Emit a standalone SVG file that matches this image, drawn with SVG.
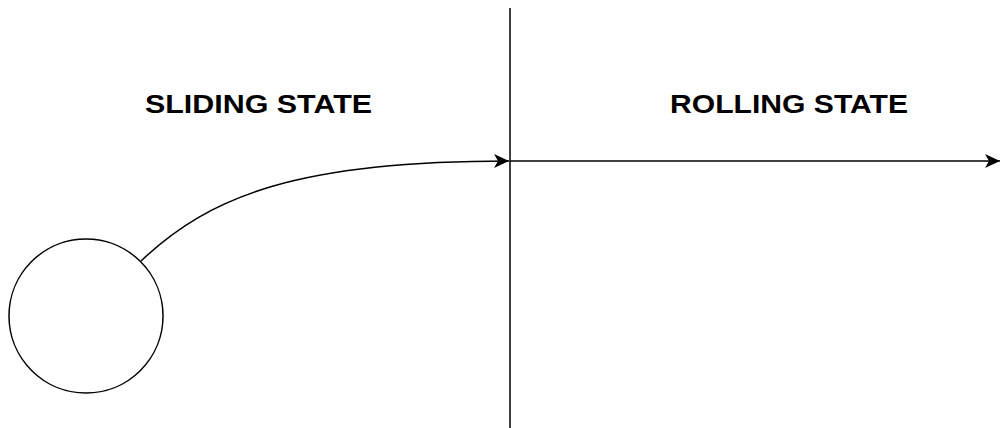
<svg xmlns="http://www.w3.org/2000/svg" width="1001" height="428" viewBox="0 0 1001 428">
<style>
.ln{fill:none;stroke:#000;stroke-width:1.5}
.lbl{font-family:"Liberation Sans",Arial,sans-serif;font-weight:bold;font-size:25px;fill:#000}
</style>
<defs>
<marker id="arr" markerUnits="userSpaceOnUse" markerWidth="18" markerHeight="16" refX="15" refY="7" orient="auto" viewBox="0 0 18 16">
<path d="M0,0 L15,7 L0,14 L4,7 Z" fill="#000"/>
</marker>
</defs>
<rect width="1001" height="428" fill="#fff"/>
<g id="divider"><line class="ln" x1="510" y1="8" x2="510" y2="428"/></g>
<g id="ball"><circle class="ln" cx="86" cy="316" r="77"/></g>
<g id="sliding-label"><text class="lbl" x="145" y="113" textLength="227" lengthAdjust="spacingAndGlyphs">SLIDING STATE</text></g>
<g id="rolling-label"><text class="lbl" x="670" y="113" textLength="238" lengthAdjust="spacingAndGlyphs">ROLLING STATE</text></g>
<g id="connectors">
<path class="ln" d="M141,261 C210,195 300,161 509,161" marker-end="url(#arr)"/>
<line class="ln" x1="510" y1="161" x2="1000" y2="161" marker-end="url(#arr)"/>
</g>
</svg>
